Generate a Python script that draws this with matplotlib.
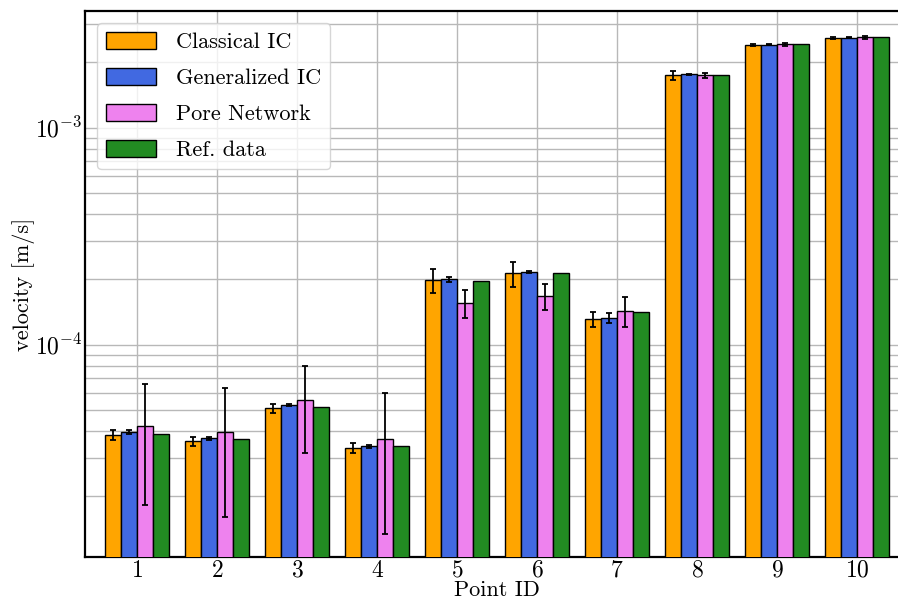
import matplotlib
matplotlib.use('Agg')
import matplotlib.pyplot as plt
import numpy as np

plt.rcParams['font.family'] = 'cmr10'
plt.rcParams['mathtext.fontset'] = 'cm'
plt.rcParams['axes.formatter.use_mathtext'] = True

# datos
puntos = [1, 2, 3, 4, 5, 6, 7, 8, 9, 10]
series = ['Classical IC', 'Generalized IC', 'Pore Network', 'Ref. data']
colores = ['orange', 'royalblue', 'violet', 'forestgreen']

clasico = [3.82e-5, 3.59e-5, 5.09e-5, 3.33e-5, 1.98e-4, 2.13e-4, 1.31e-4, 1.74e-3, 2.41e-3, 2.60e-3]
clasico_err = [0.20e-5, 0.18e-5, 0.26e-5, 0.18e-5, 0.25e-4, 0.28e-4, 0.10e-4, 0.075e-3, 0.03e-3, 0.03e-3]
general = [3.95e-5, 3.70e-5, 5.26e-5, 3.40e-5, 2.00e-4, 2.16e-4, 1.33e-4, 1.76e-3, 2.41e-3, 2.60e-3]
general_err = [0.08e-5, 0.05e-5, 0.07e-5, 0.05e-5, 0.05e-4, 0.03e-4, 0.07e-4, 0.01e-3, 0.01e-3, 0.01e-3]
poros = [4.20e-5, 3.95e-5, 5.58e-5, 3.67e-5, 1.55e-4, 1.68e-4, 1.43e-4, 1.74e-3, 2.42e-3, 2.61e-3]
poros_err = [2.37e-5, 2.35e-5, 2.40e-5, 2.33e-5, 0.23e-4, 0.23e-4, 0.23e-4, 0.04e-3, 0.04e-3, 0.04e-3]
referencia = [3.88e-5, 3.67e-5, 5.16e-5, 3.40e-5, 1.96e-4, 2.14e-4, 1.42e-4, 1.75e-3, 2.42e-3, 2.61e-3]

valores = [clasico, general, poros, referencia]
errores = [clasico_err, general_err, poros_err, None]

fig = plt.figure(figsize=(8.98, 6.02), dpi=100)
ax = fig.add_axes([0.0947, 0.0748, 0.9176, 0.907])

x = np.array(puntos)
ancho = 0.2
for i in range(4):
    pos = x + (i - 1.5) * ancho
    ax.bar(pos, valores[i], ancho, color=colores[i], edgecolor='black',
           linewidth=1, label=series[i], zorder=3)
    if errores[i] is not None:
        ax.errorbar(pos, valores[i], yerr=errores[i], fmt='none', ecolor='black',
                    elinewidth=1.3, capsize=2.5, capthick=1.3, zorder=4)

ax.set_yscale('log')
ax.set_ylim(1.05e-5, 3.45e-3)
ax.set_xlim(0.35, 10.65)
ax.set_xticks(puntos)
ax.grid(True, which='major', color='#b8b8b8', linewidth=1, zorder=0)
ax.grid(True, which='minor', axis='y', color='#b8b8b8', linewidth=1, zorder=0)
ax.set_axisbelow(True)
ax.tick_params(which='both', length=0, labelsize=17)
ax.tick_params(axis='x', pad=2)
ax.tick_params(axis='y', pad=2)
for s in ax.spines.values():
    s.set_linewidth(1.6)

ax.set_xlabel('Point ID', fontsize=16, labelpad=-1)
ax.set_ylabel('velocity [m/s]', fontsize=16, labelpad=0)
ax.legend(loc='upper left', fontsize=16, handlelength=2.25, handleheight=0.77,
          handletextpad=0.9, labelspacing=0.72, borderaxespad=0.55)

plt.savefig('out.png', dpi=100)
